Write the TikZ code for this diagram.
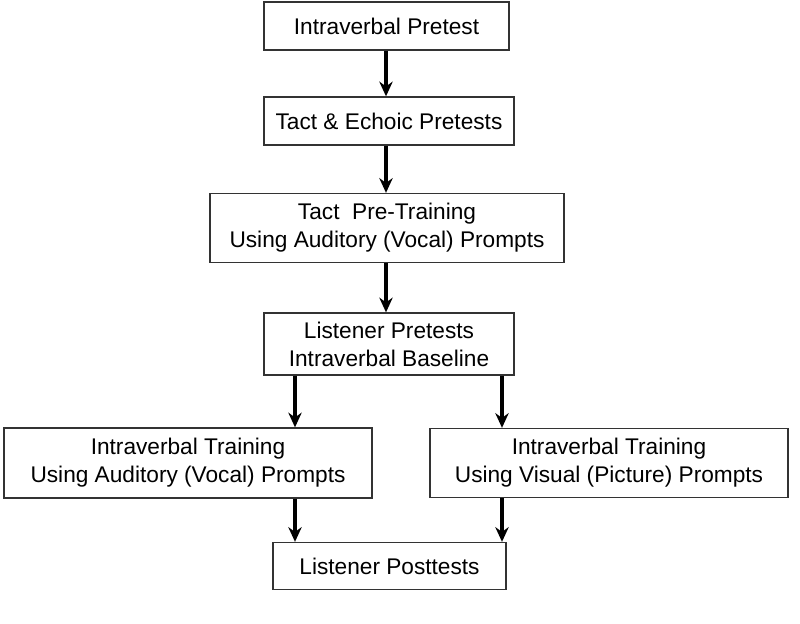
\documentclass[tikz,border=0pt]{standalone}
\usepackage{fontspec}
\setmainfont{Liberation Sans}
\usetikzlibrary{arrows.meta}
\begin{document}
\begin{tikzpicture}[x=0.75pt,y=-0.75pt,
  box/.style={draw=black!80,line width=1pt,fill=white,align=center,font=\fontsize{17}{21}\selectfont,inner sep=0pt},
  arr/.style={-{Stealth[length=11pt,width=10pt]},line width=2.5pt}]
\useasboundingbox (0,0) rectangle (800,624);
\node[box,minimum width=245*0.75pt,minimum height=48*0.75pt] (a) at (386.5,26) {Intraverbal Pretest};
\node[box,minimum width=250*0.75pt,minimum height=48*0.75pt] (b) at (389,121) {Tact \& Echoic Pretests};
\node[box,minimum width=354*0.75pt,minimum height=69*0.75pt] (c) at (387,228) {Tact\ \ Pre-Training\\Using Auditory (Vocal) Prompts};
\node[box,minimum width=250*0.75pt,minimum height=62*0.75pt] (d) at (389,344) {Listener Pretests\\Intraverbal Baseline};
\node[box,minimum width=368*0.75pt,minimum height=70*0.75pt] (e) at (188,463) {Intraverbal Training\\Using Auditory (Vocal) Prompts};
\node[box,minimum width=358*0.75pt,minimum height=69*0.75pt] (f) at (609,463) {Intraverbal Training\\Using Visual (Picture) Prompts};
\node[box,minimum width=233*0.75pt,minimum height=47*0.75pt] (g) at (389.5,566) {Listener Posttests};
\draw[arr] (a.south -| 386,0) -- (b.north -| 386,0);
\draw[arr] (b.south -| 386,0) -- (c.north -| 386,0);
\draw[arr] (c.south -| 386,0) -- (d.north -| 386,0);
\draw[arr] (d.south -| 295,0) -- (e.north -| 295,0);
\draw[arr] (d.south -| 502,0) -- (f.north -| 502,0);
\draw[arr] (e.south -| 295,0) -- (g.north -| 295,0);
\draw[arr] (f.south -| 502,0) -- (g.north -| 502,0);
\end{tikzpicture}
\end{document}
